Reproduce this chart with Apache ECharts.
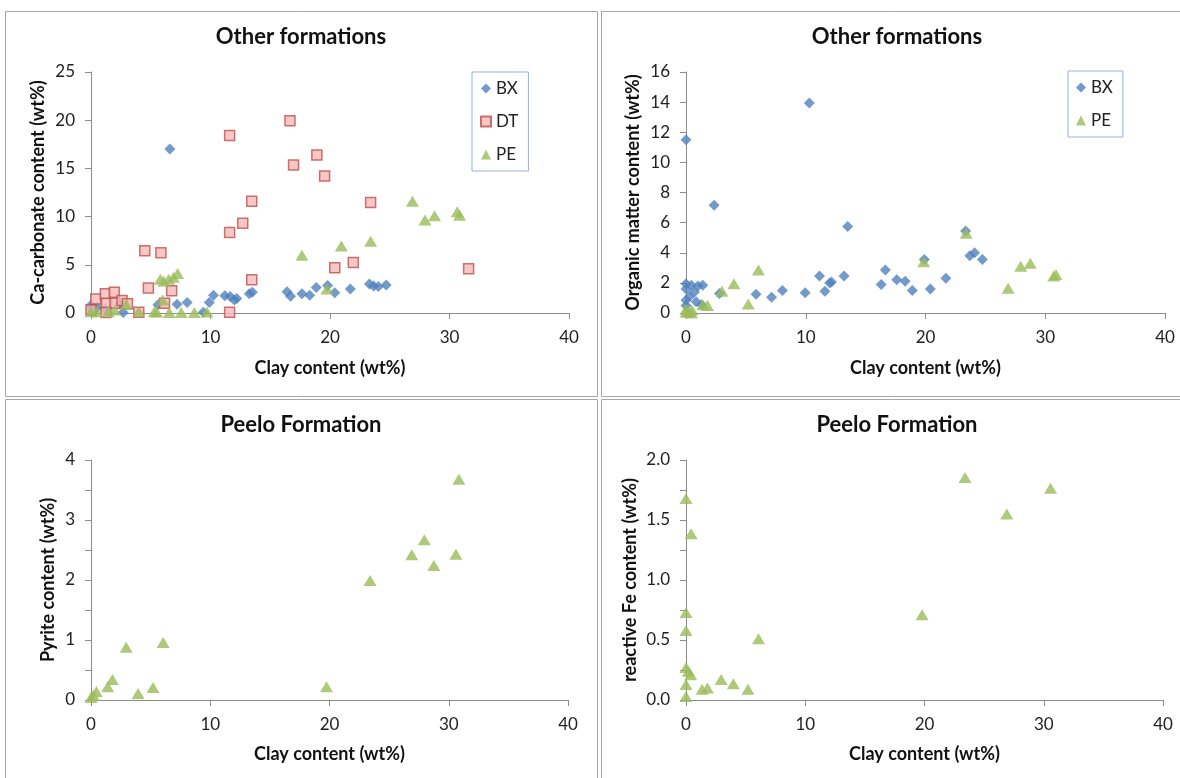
<!DOCTYPE html>
<html>
<head>
<meta charset="utf-8">
<script src="https://cdn.jsdelivr.net/npm/echarts@6/dist/echarts.min.js"></script>
<style>
  html, body { margin: 0; padding: 0; background: #fff; }
  #chart { width: 1180px; height: 778px; }
</style>
</head>
<body>
<div id="chart"></div>
<script>
// 数据：各图的 x（粘土含量）和 y 值

// 图1 Ca-carbonate
const bxClay1 = [0, 0, 0.5, 1.2, 2.4, 2.7, 5.6, 6.6, 7.2, 8.05, 9.4, 9.9, 10.25, 11.2, 11.65, 12.0, 12.2, 13.25, 13.5, 16.4, 16.7, 17.65, 18.3, 18.85, 19.8, 20.4, 21.7, 23.3, 23.65, 24.05, 24.7]
const bxCarb = [0.4, 0.8, 0.6, 0.4, 0.9, 0.05, 0.85, 17.0, 0.9, 1.1, 0.07, 1.1, 1.85, 1.8, 1.7, 1.35, 1.5, 2.0, 2.15, 2.2, 1.75, 2.0, 1.85, 2.65, 2.85, 2.1, 2.5, 3.0, 2.8, 2.75, 2.9]
const dtClay = [0, 0.4, 1.2, 1.95, 1.3, 2.0, 1.25, 2.6, 3.05, 4.0, 4.5, 4.8, 5.85, 6.15, 6.75, 11.6, 11.6, 11.6, 12.7, 13.45, 13.45, 16.65, 16.95, 18.9, 19.55, 20.4, 21.95, 23.4, 31.6]
const dtCarb = [0.3, 1.45, 2.0, 2.15, 1.0, 1.0, 0.05, 1.3, 0.95, 0.07, 6.45, 2.6, 6.25, 1.0, 2.3, 18.4, 8.35, 0.07, 9.3, 11.6, 3.45, 19.95, 15.35, 16.4, 14.2, 4.7, 5.25, 11.45, 4.6]
const peClay1 = [0, 0.5, 1.45, 2.0, 2.95, 4.0, 5.3, 5.5, 5.8, 6.1, 6.5, 6.9, 7.25, 6.0, 6.55, 7.55, 8.65, 9.7, 17.65, 19.75, 20.95, 23.4, 26.9, 27.95, 28.75, 30.65, 30.85]
const peCarb = [0.13, 0.13, 0.13, 0.3, 0.9, 0.15, 0.13, 0.1, 3.5, 3.3, 3.5, 3.7, 4.1, 1.35, 0.05, 0.05, 0.05, 0.1, 6.0, 2.5, 6.95, 7.45, 11.6, 9.65, 10.1, 10.5, 10.15]

// 图2 Organic matter
const bxClay2 = [0, 0, 0.45, 0, 1.0, 1.4, 0.7, 0.3, 0, 0, 0.85, 1.3, 2.35, 2.8, 5.85, 7.15, 8.05, 9.95, 10.3, 11.15, 11.6, 12.0, 12.15, 13.2, 13.5, 16.3, 16.65, 17.6, 18.3, 18.9, 19.9, 20.4, 21.7, 23.35, 23.7, 24.1, 24.75]
const bxOM = [11.5, 1.95, 1.85, 1.6, 1.8, 1.85, 1.4, 1.1, 0.85, 0.5, 0.75, 0.55, 7.15, 1.3, 1.25, 1.05, 1.5, 1.35, 13.95, 2.45, 1.45, 2.0, 2.05, 2.45, 5.75, 1.9, 2.85, 2.2, 2.1, 1.5, 3.55, 1.6, 2.3, 5.45, 3.8, 4.0, 3.55]
const peClay2 = [0, 0.2, 0.45, 0, 0.5, 1.4, 1.8, 3.0, 4.0, 5.2, 6.05, 19.85, 23.4, 26.9, 27.95, 28.75, 30.7, 30.9]
const peOM = [0.05, 0.1, 0.0, 0.25, 0.2, 0.55, 0.5, 1.45, 1.95, 0.6, 2.85, 3.4, 5.3, 1.65, 3.1, 3.3, 2.45, 2.55]

// 图3 Pyrite
const peClay3 = [0, 0.2, 0.45, 1.4, 1.8, 2.95, 3.95, 5.2, 6.05, 19.75, 23.4, 26.9, 27.95, 28.75, 30.6, 30.85]
const pePyrite = [0.04, 0.08, 0.14, 0.22, 0.34, 0.88, 0.11, 0.21, 0.96, 0.22, 1.99, 2.42, 2.67, 2.24, 2.43, 3.68]

// 图4 reactive Fe
const peClay4 = [0, 0.43, 0, 0, 0, 0.2, 0.4, 0, 0, 1.35, 1.8, 2.95, 3.97, 5.2, 6.08, 19.8, 23.4, 26.9, 30.57]
const peFe = [1.68, 1.385, 0.73, 0.58, 0.27, 0.24, 0.21, 0.13, 0.03, 0.09, 0.1, 0.17, 0.135, 0.09, 0.51, 0.71, 1.855, 1.55, 1.765]

const FONT = 'Lato'
const AXIS_COLOR = '#8c8c8c'

function pairs(xs, ys) {
  return xs.map((x, i) => [x, ys[i]])
}

const styles = {
  BX: { symbol: 'diamond', symbolSize: 11, itemStyle: { color: '#4f81bd' } },
  DT: { symbol: 'rect', symbolSize: 10, itemStyle: { color: '#f2b9b8', borderColor: '#c0504d', borderWidth: 1.5 } },
  PE: { symbol: 'triangle', symbolSize: [13, 11], itemStyle: { color: '#9bbb59' } }
}

function series(name, idx, xs, ys) {
  return Object.assign({
    name, type: 'scatter', xAxisIndex: idx, yAxisIndex: idx,
    data: pairs(xs, ys), clip: false, emphasis: { disabled: true }
  }, styles[name])
}

function xAxis(idx, gap) {
  return {
    type: 'value', gridIndex: idx, min: 0, max: 40, interval: 10,
    name: 'Clay content (wt%)', nameLocation: 'middle', nameGap: gap,
    nameTextStyle: { fontFamily: FONT, fontWeight: 'bold', fontSize: 18, color: '#111' },
    axisLine: { onZero: false, lineStyle: { color: AXIS_COLOR } },
    axisTick: { length: 6, lineStyle: { color: AXIS_COLOR } },
    axisLabel: { margin: 16, fontFamily: FONT, fontSize: 17, color: '#222' },
    splitLine: { show: false }
  }
}

function yAxis(idx, name, max, interval, gap, minor, fmt) {
  return {
    type: 'value', gridIndex: idx, min: 0, max, interval,
    name, nameLocation: 'middle', nameGap: gap, nameRotate: 90,
    nameTextStyle: { fontFamily: FONT, fontWeight: 'bold', fontSize: 18, color: '#111' },
    axisLine: { show: true, lineStyle: { color: AXIS_COLOR } },
    axisTick: { show: true, length: 6, lineStyle: { color: AXIS_COLOR } },
    minorTick: { show: minor, splitNumber: 2, length: 6, lineStyle: { color: AXIS_COLOR } },
    axisLabel: { margin: 16, fontFamily: FONT, fontSize: 17, color: '#222', formatter: fmt },
    splitLine: { show: false }
  }
}

function title(text, x, y) {
  return {
    text, left: x, top: y, textAlign: 'center', padding: 0,
    textStyle: { fontFamily: FONT, fontWeight: 'bold', fontSize: 22, color: '#111' }
  }
}

function legend(names, x, y) {
  return {
    data: names, orient: 'vertical', left: x, top: y,
    itemWidth: 10, itemHeight: 10, itemGap: 16, padding: [8, 10, 8, 8],
    borderColor: '#95b3d7', borderWidth: 1, selectedMode: false,
    textStyle: { fontFamily: FONT, fontSize: 17, color: '#222', lineHeight: 16 }
  }
}

// 外框
const boxes = [[5, 11, 592, 385], [601, 11, 600, 385], [5, 399, 592, 400], [601, 399, 600, 400]]

const chart = echarts.init(document.getElementById('chart'))
chart.setOption({
  animation: false,
  backgroundColor: '#fff',
  graphic: boxes.map(b => ({
    type: 'rect', silent: true,
    shape: { x: b[0] + 0.5, y: b[1] + 0.5, width: b[2], height: b[3] },
    style: { fill: 'none', stroke: '#a6a6a6', lineWidth: 1 }
  })),
  title: [
    title('Other formations', 301, 26),
    title('Other formations', 897, 26),
    title('Peelo Formation', 301, 414),
    title('Peelo Formation', 897, 414)
  ],
  legend: [legend(['BX', 'DT', 'PE'], 472, 72), legend(['BX', 'PE'], 1068, 71)],
  grid: [
    { left: 91, top: 72, width: 478, height: 241, outerBoundsMode: 'none' },
    { left: 686, top: 72, width: 479, height: 241, outerBoundsMode: 'none' },
    { left: 91, top: 460, width: 477, height: 240, outerBoundsMode: 'none' },
    { left: 686, top: 460, width: 477, height: 240, outerBoundsMode: 'none' }
  ],
  xAxis: [xAxis(0, 46), xAxis(1, 46), xAxis(2, 45), xAxis(3, 45)],
  yAxis: [
    yAxis(0, 'Ca-carbonate content (wt%)', 25, 5, 44, false),
    yAxis(1, 'Organic matter content (wt%)', 16, 2, 44, false),
    yAxis(2, 'Pyrite content (wt%)', 4, 1, 34, true),
    yAxis(3, 'reactive Fe content (wt%)', 2, 0.5, 47, true, v => v.toFixed(1))
  ],
  series: [
    series('BX', 0, bxClay1, bxCarb),
    series('DT', 0, dtClay, dtCarb),
    series('PE', 0, peClay1, peCarb),
    series('BX', 1, bxClay2, bxOM),
    series('PE', 1, peClay2, peOM),
    series('PE', 2, peClay3, pePyrite),
    series('PE', 3, peClay4, peFe)
  ]
})
</script>
</body>
</html>
